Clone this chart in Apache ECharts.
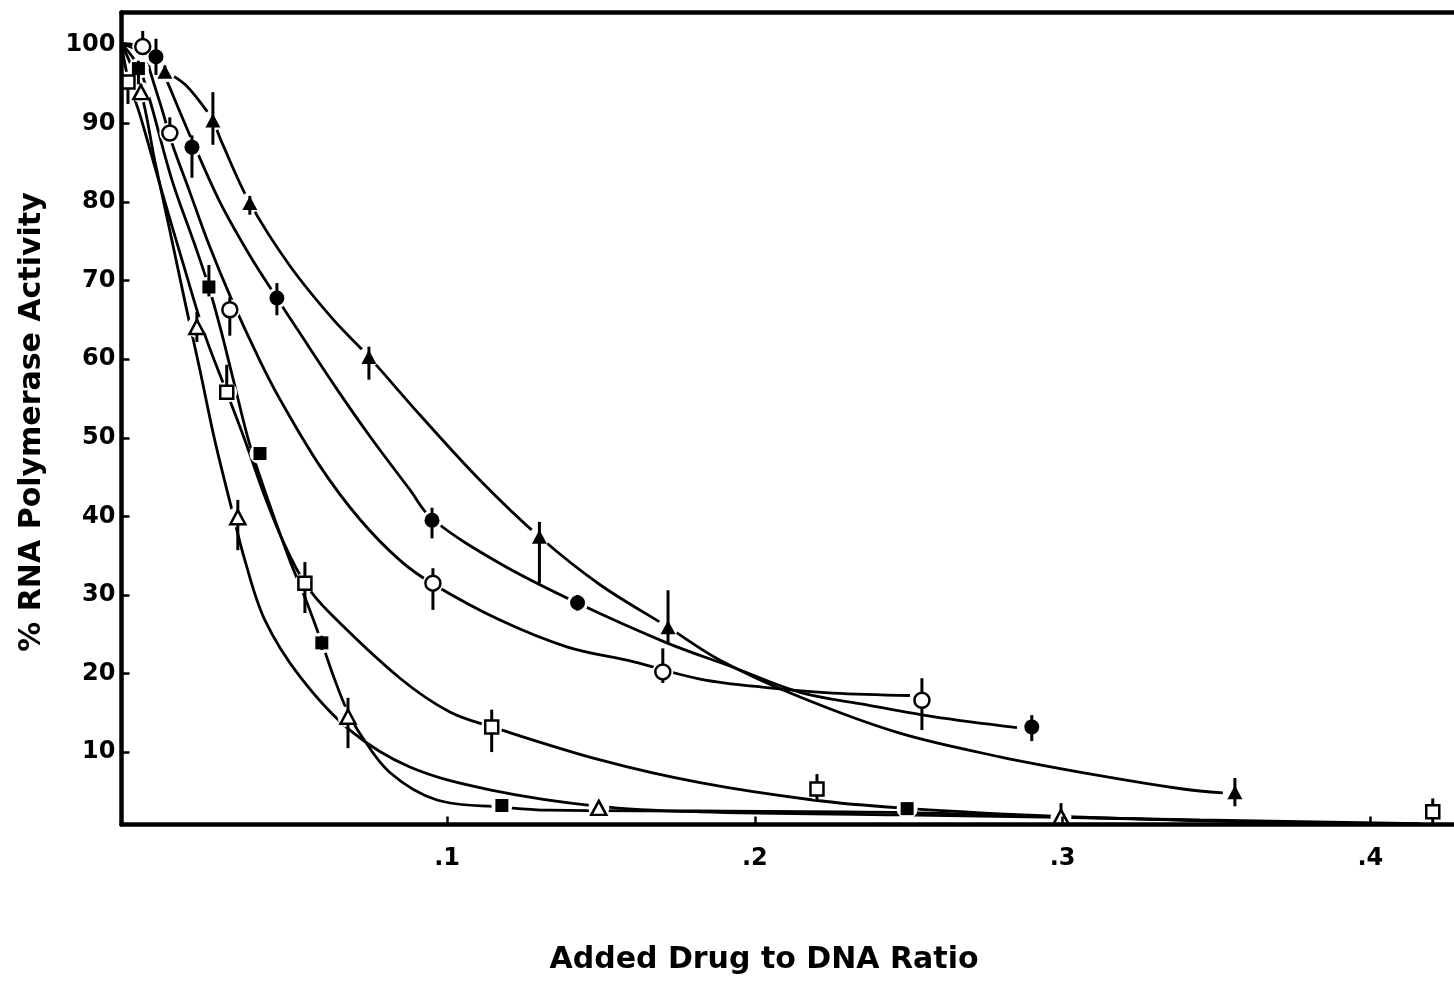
<!DOCTYPE html>
<html><head><meta charset="utf-8">
<script src="https://cdn.jsdelivr.net/npm/echarts@6/dist/echarts.min.js"></script>
<style>html,body{margin:0;padding:0;background:#fff}#c{width:1454px;height:981px}</style>
</head><body><div id="c"></div>
<script>
// ---- axis ticks ----
const xTicks = [0.1, 0.2, 0.3, 0.4];
const xTickLabels = ['.1', '.2', '.3', '.4'];
const yTicks = [10, 20, 30, 40, 50, 60, 70, 80, 90, 100];
const xTitle = 'Added Drug to DNA Ratio';
const yTitle = '% RNA Polymerase Activity';

// ---- filled triangles ----
const triFPts = [[0.0083,96.6],[0.0239,90.4],[0.0359,79.9],[0.0746,60.3],[0.1300,37.4],[0.1718,25.9],[0.3560,4.9]];
const triFErr = [[95.8,97.4],[87.3,94.0],[78.4,80.8],[57.4,61.6],[31.5,39.3],[23.9,30.6],[3.1,6.7]];
const triFCurve = [[-0.0058,100.2],[0.0034,98.6],[0.0083,96.8],[0.0148,95.0],[0.0206,92.3],[0.0239,90.4],[0.0268,87.6],[0.0359,79.9],[0.0489,71.9],[0.0629,65.1],[0.0746,60.3],[0.0912,52.9],[0.1107,44.6],[0.1300,37.4],[0.1497,31.3],[0.1718,25.9],[0.1887,21.7],[0.2147,17.0],[0.2471,12.4],[0.2796,9.4],[0.3121,7.0],[0.3391,5.3],[0.3521,4.8]];

// ---- filled circles ----
const cirFPts = [[0.0054,98.5],[0.0171,87.0],[0.0447,67.8],[0.0951,39.5],[0.1424,29.0],[0.2900,13.2]];
const cirFErr = [[96.2,100.8],[83.1,88.5],[65.6,69.7],[37.2,41.1],[28.0,30.0],[11.4,14.7]];
const cirFCurve = [[-0.0058,100.2],[0.0057,98.5],[0.0089,95.5],[0.0171,87.9],[0.0262,80.0],[0.0359,73.2],[0.0447,67.8],[0.0522,63.3],[0.0642,56.2],[0.0749,50.2],[0.0879,43.4],[0.0951,39.7],[0.1172,34.0],[0.1422,29.0],[0.1714,23.9],[0.1929,20.8],[0.2147,17.6],[0.2364,16.0],[0.2579,14.5],[0.2852,13.1]];

// ---- open circles ----
const cirOPts = [[0.0011,99.8],[0.0099,88.8],[0.0294,66.3],[0.0954,31.5],[0.1701,20.2],[0.2543,16.6]];
const cirOErr = [[99.5,101.8],[88.5,90.8],[63.0,67.9],[28.1,33.4],[18.8,23.2],[12.8,19.4]];
const cirOCurve = [[-0.0058,100.2],[0.0015,99.6],[0.0034,96.8],[0.0076,91.5],[0.0106,87.5],[0.0162,81.5],[0.0227,74.5],[0.0301,67.5],[0.0392,59.8],[0.0457,54.9],[0.0587,46.4],[0.0717,39.6],[0.0847,34.4],[0.0954,31.4],[0.1172,26.8],[0.1389,23.4],[0.1604,21.5],[0.1822,19.3],[0.2039,18.2],[0.2254,17.5],[0.2504,17.2]];

// ---- filled squares ----
const sqFPts = [[-0.0003,97.0],[0.0226,69.2],[0.0392,48.0],[0.0593,23.9],[0.1178,3.2],[0.2495,2.8]];
const sqFErr = [[95.0,98.0],[68.0,72.0],[47.2,48.8],[23.0,24.8],[2.5,3.9],[2.0,3.6]];
const sqFCurve = [[-0.0058,100.2],[-0.0002,97.2],[0.0034,93.0],[0.0106,82.8],[0.0180,74.6],[0.0226,69.2],[0.0265,63.7],[0.0304,57.6],[0.0359,49.1],[0.0418,42.1],[0.0489,34.4],[0.0538,29.7],[0.0593,23.9],[0.0635,19.2],[0.0674,15.4],[0.0716,12.4],[0.0814,7.4],[0.0967,3.9],[0.1178,3.0],[0.1334,2.6],[0.1822,2.5],[0.2495,2.3],[0.3121,1.6],[0.3771,1.0],[0.4161,0.8]];

// ---- open squares ----
const sqOPts = [[-0.0037,95.3],[0.0284,55.8],[0.0538,31.5],[0.1145,13.2],[0.2202,5.3],[0.4203,2.4]];
const sqOErr = [[92.5,95.8],[55.0,59.3],[27.7,34.2],[10.0,15.4],[3.9,7.2],[0.8,4.1]];
const sqOCurve = [[-0.0058,100.2],[-0.0037,95.8],[0.0002,91.1],[0.0067,82.2],[0.0148,71.4],[0.0213,63.1],[0.0284,55.8],[0.0343,49.7],[0.0408,42.5],[0.0473,36.3],[0.0538,31.5],[0.0619,27.7],[0.0847,19.4],[0.1009,15.1],[0.1146,13.2],[0.1497,9.0],[0.1822,6.1],[0.2189,3.9],[0.2471,2.9],[0.2968,1.85],[0.3771,1.0],[0.4161,0.8]];

// ---- open triangles ----
const triOPts = [[0.0005,94.0],[0.0187,64.1],[0.0320,39.9],[0.0678,14.5],[0.1493,2.9],[0.2995,1.75]];
const triOErr = [[93.5,95.0],[62.2,66.0],[35.7,42.1],[10.5,16.9],[2.3,3.6],[1.2,3.5]];
const triOCurve = [[-0.0058,100.2],[0.0005,94.0],[0.0050,85.3],[0.0099,76.4],[0.0151,66.8],[0.0197,58.6],[0.0245,49.7],[0.0301,40.8],[0.0343,34.4],[0.0408,26.8],[0.0522,19.6],[0.0684,12.8],[0.0879,8.1],[0.1139,5.2],[0.1493,3.1],[0.1822,2.4],[0.2471,2.0],[0.2991,1.7],[0.3446,1.35],[0.4161,0.9]];

const groups = [
  {pts: triFPts, err: triFErr, curve: triFCurve, symbol: 'triangle', size: [15, 14], filled: true},
  {pts: cirFPts, err: cirFErr, curve: cirFCurve, symbol: 'circle', size: 15, filled: true},
  {pts: cirOPts, err: cirOErr, curve: cirOCurve, symbol: 'circle', size: 15, filled: false},
  {pts: sqFPts, err: sqFErr, curve: sqFCurve, symbol: 'rect', size: 13, filled: true},
  {pts: sqOPts, err: sqOErr, curve: sqOCurve, symbol: 'rect', size: 13, filled: false},
  {pts: triOPts, err: triOErr, curve: triOCurve, symbol: 'triangle', size: [15, 14], filled: false}
];

const FONT = '"DejaVu Sans", sans-serif';
const series = [];
groups.forEach(g => {
  series.push({type: 'line', data: g.curve, smooth: 0.35, showSymbol: false, silent: true,
    lineStyle: {color: '#000', width: 2.8, opacity: 1}, z: 1});
});
groups.forEach(g => {
  series.push({type: 'scatter', data: g.pts, symbol: 'circle', symbolSize: 21, silent: true,
    itemStyle: {color: '#fff', opacity: 1}, z: 2});
});
groups.forEach(g => {
  series.push({type: 'custom', silent: true, z: 3,
    data: g.pts.map((p, i) => [p[0], g.err[i][0], g.err[i][1]]),
    encode: {x: 0, y: [1, 2]},
    renderItem: (params, api) => {
      const a = api.coord([api.value(0), api.value(1)]);
      const b = api.coord([api.value(0), api.value(2)]);
      return {type: 'line', shape: {x1: a[0], y1: a[1], x2: b[0], y2: b[1]},
        style: {stroke: '#000', lineWidth: 3}};
    }});
});
groups.forEach(g => {
  series.push({type: 'scatter', data: g.pts, symbol: g.symbol, symbolSize: g.size, silent: true, z: 4,
    itemStyle: g.filled ? {color: '#000', opacity: 1} : {color: '#fff', borderColor: '#000', borderWidth: 2.5, opacity: 1}});
});

const chart = echarts.init(document.getElementById('c'), null, {renderer: 'canvas'});
chart.setOption({
  animation: false,
  backgroundColor: '#fff',
  grid: {left: 121.5, right: 0, top: 12.5, bottom: 156.5, containLabel: false},
  xAxis: [{
    type: 'value', min: -0.0058, max: 0.4272, z: 10,
    splitLine: {show: false},
    axisLine: {show: true, onZero: false, lineStyle: {color: '#000', width: 4.5}},
    axisTick: {show: true, inside: true, length: 8, customValues: xTicks, lineStyle: {color: '#000', width: 2.5}},
    axisLabel: {show: true, customValues: xTicks, margin: 22,
      formatter: v => { const i = xTicks.findIndex(t => Math.abs(t - v) < 1e-9); return i >= 0 ? xTickLabels[i] : ''; },
      color: '#000', fontFamily: FONT, fontWeight: 'bold', fontSize: 24}
  }, {
    type: 'value', position: 'top', min: -0.0058, max: 0.4272, z: 10,
    splitLine: {show: false},
    axisLine: {show: true, onZero: false, lineStyle: {color: '#000', width: 4.5}},
    axisTick: {show: false}, axisLabel: {show: false}
  }],
  yAxis: {
    type: 'value', min: 0.78, max: 104.14, z: 10,
    splitLine: {show: false},
    axisLine: {show: true, onZero: false, lineStyle: {color: '#000', width: 4.5}},
    axisTick: {show: true, inside: true, length: 8, customValues: yTicks, lineStyle: {color: '#000', width: 2.5}},
    axisLabel: {show: true, customValues: yTicks, margin: 6,
      color: '#000', fontFamily: FONT, fontWeight: 'bold', fontSize: 24}
  },
  graphic: [
    {type: 'text', x: 764, y: 960, silent: true,
      style: {text: xTitle, fill: '#000', font: 'bold 30px ' + FONT, textAlign: 'center', textVerticalAlign: 'middle'}},
    {type: 'text', x: 32, y: 422, rotation: Math.PI / 2, silent: true,
      style: {text: yTitle, fill: '#000', font: 'bold 30px ' + FONT, textAlign: 'center', textVerticalAlign: 'middle'}}
  ],
  series: series
});
</script>
</body></html>
